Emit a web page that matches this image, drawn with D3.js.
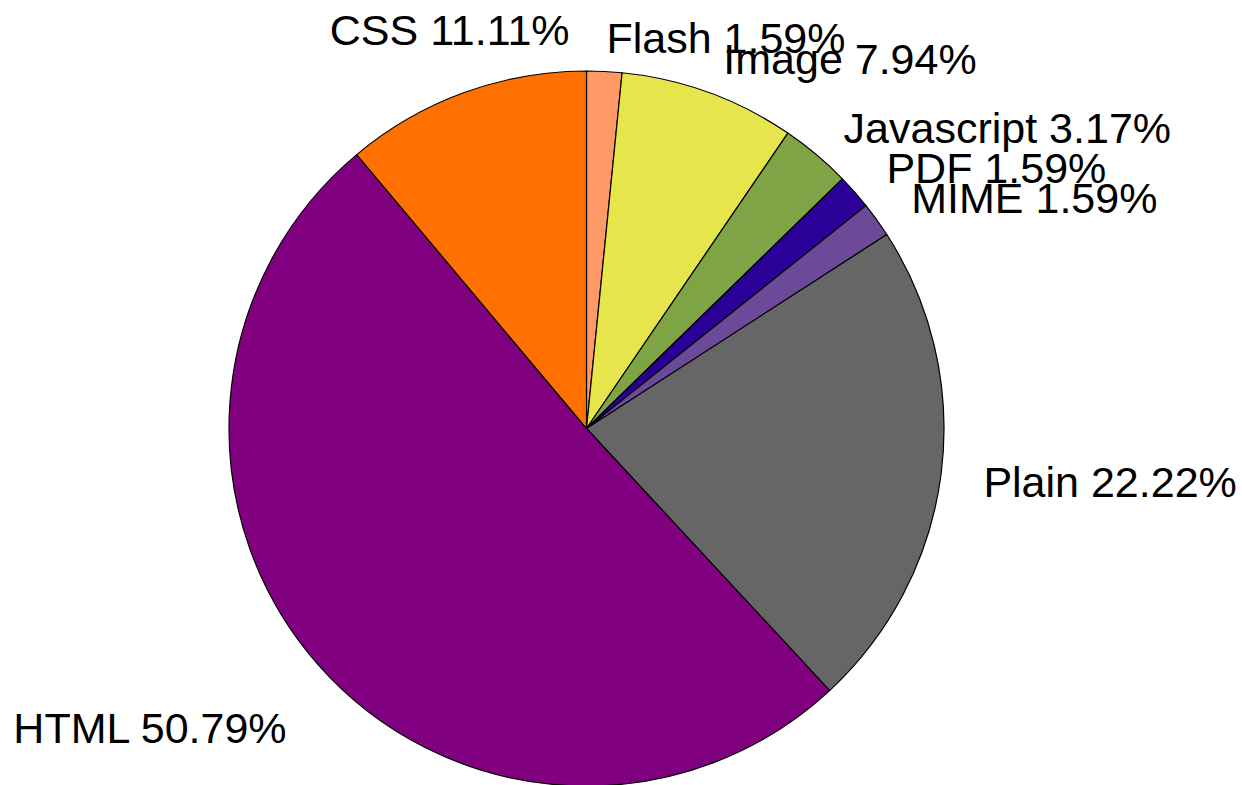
<!DOCTYPE html>
<html>
<head>
<meta charset="utf-8">
<script src="https://cdn.jsdelivr.net/npm/d3@7"></script>
<style>
  html, body { margin: 0; padding: 0; background: #fff; }
  svg { display: block; }
  text { font-family: "Liberation Sans", Arial, sans-serif; font-size: 43px; fill: #000; }
</style>
</head>
<body>
<svg id="chart" width="1242" height="785"></svg>
<script>
// Data (clockwise from 12 o'clock)
const categories = ["Flash", "Image", "Javascript", "PDF", "MIME", "Plain", "HTML", "CSS"];
const counts     = [1, 5, 2, 1, 1, 14, 32, 7];
const colors     = ["#ff9966", "#e6e64c", "#7ea446", "#2b0099", "#6c4a99", "#666666", "#800080", "#ff7000"];
// Label layout (anchor and baseline shift), kept apart from the data
const labelAnchor = ["start", "start", "start", "start", "start", "start", "end", "middle"];
const labelDy     = [24, 21, 21, 19, 18, 19, 50, -8];

const width = 1242, height = 785;
const cx = 586.5, cy = 428.5, R = 357.5, labelR = 400;
const total = d3.sum(counts);

const data = categories.map((c, i) => ({ name: c, value: counts[i], color: colors[i], i }));

const pie = d3.pie().sort(null).value(d => d.value).startAngle(0).endAngle(2 * Math.PI);
const arcs = pie(data);
const arc = d3.arc().innerRadius(0).outerRadius(R);
const labelArc = d3.arc().innerRadius(labelR).outerRadius(labelR);

const svg = d3.select("#chart");
const g = svg.append("g").attr("transform", `translate(${cx},${cy})`);

g.selectAll("path.slice")
  .data(arcs)
  .join("path")
  .attr("class", "slice")
  .attr("d", arc)
  .attr("fill", d => d.data.color)
  .attr("stroke", "#000")
  .attr("stroke-width", 1.2)
  .attr("stroke-linejoin", "round");

const fmt = v => (v / total * 100).toFixed(2) + "%";

g.selectAll("text.label")
  .data(arcs)
  .join("text")
  .attr("class", "label")
  .attr("x", d => labelArc.centroid(d)[0])
  .attr("y", d => labelArc.centroid(d)[1])
  .attr("dy", d => labelDy[d.data.i])
  .attr("text-anchor", d => labelAnchor[d.data.i])
  .text(d => `${d.data.name} ${fmt(d.data.value)}`);
</script>
</body>
</html>
